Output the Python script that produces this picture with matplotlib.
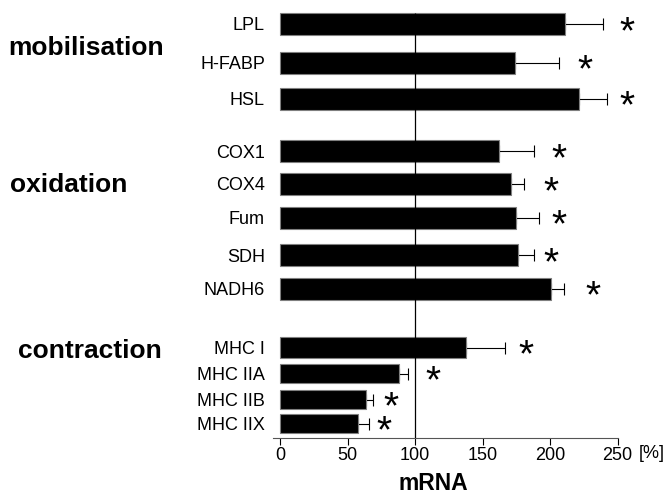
import matplotlib
matplotlib.use("Agg")
import matplotlib.pyplot as plt

plt.rcParams['font.family'] = ['Liberation Sans', 'DejaVu Sans']

# ---- data ----
genes = ["LPL", "H-FABP", "HSL", "COX1", "COX4", "Fum", "SDH", "NADH6",
         "MHC I", "MHC IIA", "MHC IIB", "MHC IIX"]
values = [211, 174, 221.5, 162, 171, 175, 176, 200.5, 138, 88.5, 63.5, 57.5]
errors = [28.5, 33, 20.5, 26, 10, 16.5, 12, 9.5, 28.5, 6.5, 5.5, 8.5]
star_x = [257, 226, 257, 206.5, 201, 207, 201, 232, 182, 113.5, 82.5, 77]
groups = ["mobilisation", "oxidation", "contraction"]
xticks = [0, 50, 100, 150, 200, 250]

# ---- layout (pixel-like vertical positions) ----
ypos = [24, 62.5, 98.5, 151, 184, 217.5, 255, 288.5, 347.5, 373.5, 399.5, 423.5]
heights = [22, 22, 22, 22, 22, 22, 22, 22, 21, 19, 19, 19]
group_px = [(8, 55), (10, 192), (18, 358)]  # (left x, baseline y) in figure px

W, H = 667, 499
fig = plt.figure(figsize=(W / 100, H / 100), dpi=100)
ax_left, ax_right, ax_bottom_px = 273.25, 617.5, 438
ax = fig.add_axes([ax_left / W, (H - ax_bottom_px) / H,
                   (ax_right - ax_left) / W, ax_bottom_px / H])

ax.barh(ypos, values, height=heights, color='black', edgecolor='#7f7f7f',
        linewidth=0.8, zorder=3)
ax.errorbar(values, ypos, xerr=[[0] * len(values), errors], fmt='none',
            ecolor='black', elinewidth=0.8, capsize=4.5, capthick=0.8, zorder=2)
ax.vlines(100, ypos[0] - heights[0] / 2, ax_bottom_px, color='black',
          linewidth=0.9, zorder=4)

for x, y in zip(star_x, ypos):
    ax.text(x, y + 19, "*", ha='center', va='baseline', fontsize=28,
            color='black')

ax.set_xlim(-5, 250)
ax.set_ylim(ax_bottom_px, 0)
ax.set_xticks(xticks)
ax.set_xticklabels([str(t) for t in xticks], fontsize=13)
ax.tick_params(axis='x', direction='out', length=5, width=0.8, pad=1.5)
ax.set_yticks(ypos)
ax.set_yticklabels(genes, fontsize=13)
ax.tick_params(axis='y', length=0, pad=6)
for s in ['top', 'right', 'left']:
    ax.spines[s].set_visible(False)
ax.spines['bottom'].set_linewidth(0.8)
ax.spines['bottom'].set_color('#555555')

fig.text(652 / W, 1 - 453 / H, "[%]", ha='center', va='center', fontsize=13)
fig.text(433 / W, 1 - 483 / H, "mRNA", ha='center', va='center',
         fontsize=16.5, fontweight='bold')

for g, (gx, gy) in zip(groups, group_px):
    fig.text(gx / W, 1 - gy / H, g, ha='left', va='baseline', fontsize=19,
             fontweight='bold')

fig.savefig("out.png", dpi=100)
